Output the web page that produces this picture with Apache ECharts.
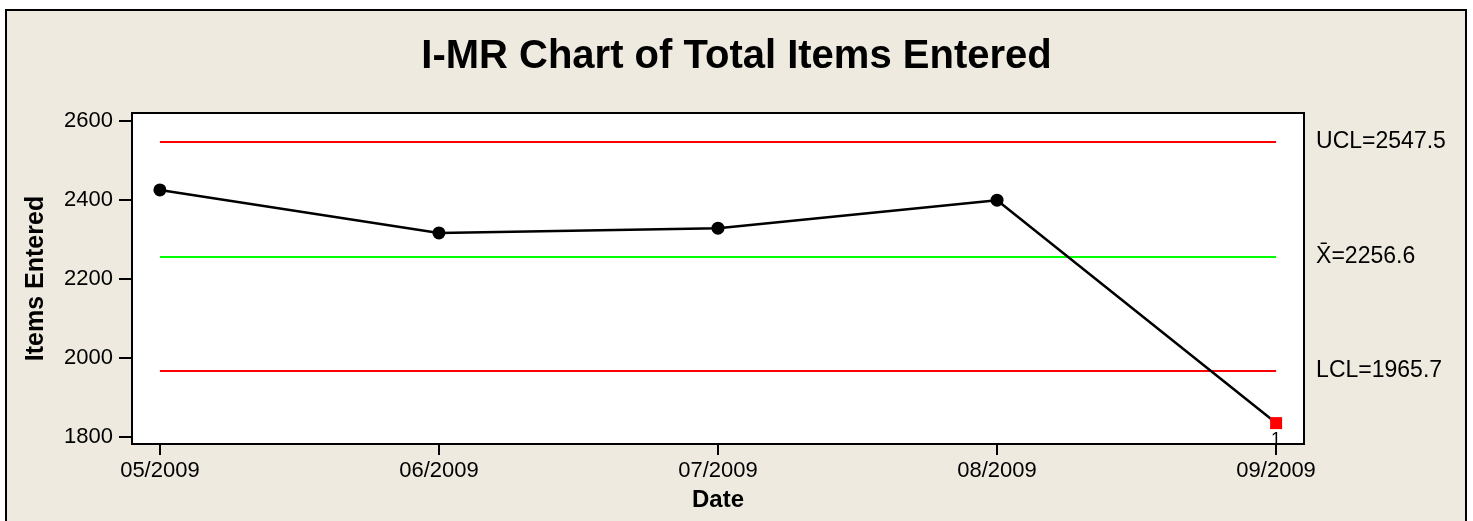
<!DOCTYPE html>
<html>
<head>
<meta charset="utf-8">
<title>I-MR Chart of Total Items Entered</title>
<script src="https://cdn.jsdelivr.net/npm/echarts@6/dist/echarts.min.js"></script>
<style>
    html, body { margin: 0; padding: 0; background: #fff; }
    #chart { width: 1473px; height: 521px; }
</style>
</head>
<body>
<div id="chart"></div>
<script>
    // values
    const months = ['05/2009', '06/2009', '07/2009', '08/2009', '09/2009']
    const itemsEntered = [2425, 2316, 2328, 2399, 1834]
    const ucl = 2547.5
    const centerLine = 2256.6
    const lcl = 1965.7
    const yTicks = [1800, 2000, 2200, 2400, 2600]

    const xTicks = months.map((m, i) => i + 1)
    const font = '"Liberation Sans", Arial, sans-serif'

    const points = itemsEntered.map((v, i) => {
        const out = v > ucl || v < lcl
        const p = { value: [i + 1, v] }
        if (out) {
            p.symbol = 'rect'
            p.symbolSize = 12
            p.itemStyle = { color: '#ff0000' }
            p.label = {
                show: true, position: 'bottom', distance: 2,
                formatter: '1', color: '#000', fontSize: 18, fontFamily: font
            }
        }
        return p
    })

    function limitLine(value, color, text) {
        return {
            silent: true,
            symbol: 'none',
            lineStyle: { color: color, width: 2, type: 'solid' },
            label: {
                show: true, position: 'end', distance: 40,
                formatter: text, color: '#000', fontSize: 23, fontFamily: font
            },
            data: [[{ coord: [1, value] }, { coord: [5, value] }]]
        }
    }

    const chart = echarts.init(document.getElementById('chart'))
    chart.setOption({
        animation: false,
        backgroundColor: '#fff',
        graphic: [{
            type: 'rect',
            z: -10,
            shape: { x: 6, y: 10, width: 1460, height: 530 },
            style: { fill: '#eeeadf', stroke: '#000', lineWidth: 2 }
        }],
        title: {
            text: 'I-MR Chart of Total Items Entered',
            left: 'center',
            top: 32,
            textStyle: { fontSize: 40, fontWeight: 'bold', color: '#000', fontFamily: font }
        },
        grid: {
            left: 132, right: 169, top: 113, bottom: 77,
            show: true, backgroundColor: '#fff', borderColor: '#000', borderWidth: 2
        },
        xAxis: {
            type: 'value',
            min: 0.9,
            max: 5.1,
            name: 'Date',
            nameLocation: 'middle',
            nameGap: 44,
            nameTextStyle: { fontSize: 24, fontWeight: 'bold', color: '#000', fontFamily: font },
            axisLine: { show: false },
            axisTick: { show: true, length: 11, customValues: xTicks, lineStyle: { color: '#000', width: 2 } },
            axisLabel: {
                customValues: xTicks, margin: 16, fontSize: 22, color: '#000', fontFamily: font,
                formatter: v => months[Math.round(v) - 1]
            },
            splitLine: { show: false }
        },
        yAxis: {
            type: 'value',
            min: 1781,
            max: 2620,
            name: 'Items Entered',
            nameLocation: 'middle',
            nameGap: 83,
            nameTextStyle: { fontSize: 25, fontWeight: 'bold', color: '#000', fontFamily: font },
            axisLine: { show: false },
            axisTick: { show: true, length: 13, customValues: yTicks, lineStyle: { color: '#000', width: 2 } },
            axisLabel: {
                customValues: yTicks, margin: 19, fontSize: 22, color: '#000', fontFamily: font,
                formatter: v => String(v)
            },
            splitLine: { show: false }
        },
        series: [
            {
                type: 'line', name: 'UCL', data: [], silent: true,
                markLine: limitLine(ucl, '#ff0000', 'UCL=' + ucl)
            },
            {
                type: 'line', name: 'Mean', data: [], silent: true,
                markLine: limitLine(centerLine, '#00ff00', 'X\u0304=' + centerLine)
            },
            {
                type: 'line', name: 'LCL', data: [], silent: true,
                markLine: limitLine(lcl, '#ff0000', 'LCL=' + lcl)
            },
            {
                type: 'line',
                name: 'Items Entered',
                data: points,
                symbol: 'circle',
                symbolSize: 13,
                showAllSymbol: true,
                lineStyle: { color: '#000', width: 2.5 },
                itemStyle: { color: '#000' },
                z: 5
            }
        ]
    })
</script>
</body>
</html>
